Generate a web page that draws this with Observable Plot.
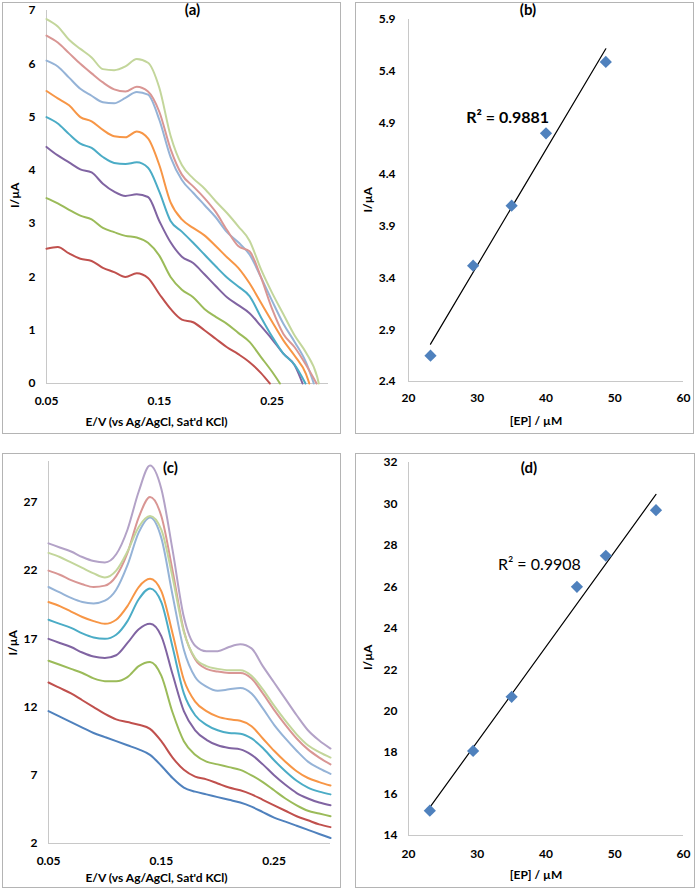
<!DOCTYPE html>
<html><head><meta charset="utf-8">
<script src="https://cdn.jsdelivr.net/npm/d3@7"></script>
<script src="https://cdn.jsdelivr.net/npm/@observablehq/plot@0.6"></script>
<style>
body{margin:0;background:#fff;}
#wrap{position:relative;width:697px;height:890px;font-family:Lato,"Open Sans",sans-serif;}
.panel{position:absolute;border:1px solid #b4b4b4;background:#fff;}
.panel svg{display:block;}
</style></head><body><div id="wrap"></div>
<script>
// ---------- Panel (a): DPV curves, low concentration ----------
const gridA = [0.05,0.06,0.07,0.08,0.09,0.10,0.11,0.12,0.13,0.14,0.15,0.16,0.17,0.18,0.19,0.20,0.21,0.22,0.23,0.24,0.25,0.26,0.27,0.28,0.29];
const aRed        = [2.53,2.56,2.44,2.34,2.30,2.17,2.09,2.00,2.07,1.98,1.68,1.40,1.20,1.15,1.00,0.84,0.68,0.55,0.40,0.20];
const aGreen      = [3.48,3.38,3.26,3.15,3.08,2.92,2.84,2.77,2.74,2.64,2.40,2.00,1.76,1.62,1.40,1.25,1.12,0.95,0.78,0.50,0.22];
const aPurple     = [4.44,4.28,4.15,4.02,3.96,3.75,3.60,3.52,3.55,3.50,3.05,2.65,2.38,2.26,2.05,1.83,1.62,1.47,1.32,1.08,0.83,0.56,0.34];
const aTeal       = [5.00,4.88,4.68,4.50,4.42,4.25,4.14,4.12,4.15,4.05,3.60,3.05,2.85,2.64,2.42,2.20,1.99,1.82,1.64,1.25,0.88,0.56,0.35];
const aOrange     = [5.49,5.35,5.22,5.00,4.92,4.76,4.64,4.62,4.73,4.60,4.10,3.40,3.08,2.92,2.78,2.58,2.37,2.17,1.88,1.52,1.16,0.81,0.52,0.18];
const aLightBlue  = [6.06,5.95,5.74,5.53,5.40,5.28,5.26,5.36,5.47,5.42,4.95,4.25,3.82,3.58,3.35,3.12,2.84,2.65,2.42,2.00,1.55,1.12,0.78,0.40];
const aPink       = [6.53,6.40,6.20,6.00,5.82,5.65,5.52,5.48,5.57,5.48,5.10,4.40,3.92,3.70,3.48,3.22,2.88,2.58,2.48,2.00,1.40,0.93,0.68,0.35];
const aLightGreen = [6.84,6.70,6.45,6.28,6.12,5.90,5.88,5.95,6.09,6.02,5.55,4.65,4.10,3.85,3.66,3.42,3.20,2.95,2.68,2.15,1.70,1.30,0.90,0.58,0.12];
const aEndE = [0.248,0.257,0.277,0.2796,0.283,0.287,0.2894,0.2914];
const aColors = ["#C0504D","#9BBB59","#8064A2","#4BACC6","#F79646","#95B3D7","#D99694","#C3D69B"];
const aTicksY = [0,1,2,3,4,5,6,7];

// ---------- Panel (b): calibration ----------
const bConc = [23.2,29.4,35.0,40.0,48.7];
const bCurrent = [2.65,3.52,4.10,4.80,5.49];
const bTicksY = [2.4,2.9,3.4,3.9,4.4,4.9,5.4,5.9];
const concTicks = [20,30,40,50,60];

// ---------- Panel (c): DPV curves, high concentration ----------
const gridC = [0.05,0.06,0.07,0.08,0.09,0.10,0.11,0.12,0.13,0.14,0.15,0.16,0.17,0.18,0.19,0.20,0.21,0.22,0.23,0.24,0.25,0.26,0.27,0.28,0.29,0.30];
const cBlue       = [11.7,11.3,10.9,10.5,10.1,9.8,9.5,9.2,8.9,8.5,7.7,6.8,6.1,5.8,5.6,5.4,5.2,5.0,4.7,4.3,3.9,3.6,3.3,3.0,2.7,2.4];
const cRed        = [13.8,13.4,13.0,12.5,12.0,11.5,11.1,10.9,10.7,10.4,9.5,8.3,7.4,6.9,6.7,6.4,6.1,5.9,5.6,5.2,4.8,4.4,4.0,3.7,3.4,3.2];
const cGreen      = [15.4,15.1,14.8,14.5,14.1,13.9,13.9,14.2,15.0,15.3,14.3,11.6,9.5,8.5,8.0,7.8,7.6,7.4,7.0,6.5,5.9,5.3,4.8,4.4,4.2,4.0];
const cPurple     = [17.0,16.7,16.4,16.0,15.7,15.6,15.8,16.7,17.7,18.1,17.2,14.4,11.7,10.3,9.6,9.2,9.0,8.9,8.5,7.8,7.0,6.3,5.7,5.3,5.0,4.8];
const cTeal       = [18.4,18.1,17.8,17.4,17.1,17.0,17.3,18.3,19.9,20.7,19.7,16.4,13.0,11.4,10.7,10.3,10.1,10.05,9.7,9.0,8.1,7.3,6.6,6.1,5.8,5.6];
const cOrange     = [19.7,19.4,19.0,18.6,18.3,18.1,18.4,19.4,20.8,21.4,20.5,17.4,14.0,12.4,11.7,11.3,11.1,11.0,10.6,9.7,8.8,8.0,7.3,6.8,6.5,6.25];
const cLightBlue  = [20.8,20.4,20.0,19.7,19.6,19.8,20.6,22.4,24.8,25.9,24.4,20.2,16.2,14.2,13.5,13.2,13.3,13.4,13.0,11.9,10.7,9.7,8.8,8.0,7.5,7.1];
const cPink       = [22.0,21.7,21.3,21.0,20.8,20.9,21.6,23.3,25.9,27.4,26.0,22.0,17.6,15.5,14.8,14.6,14.5,14.5,14.1,13.0,11.8,10.7,9.7,8.9,8.3,7.8];
const cLightGreen = [23.3,23.0,22.6,22.2,21.8,21.5,22.0,23.4,25.2,26.0,25.0,21.5,17.5,15.6,15.0,14.8,14.7,14.7,14.3,13.3,12.1,11.0,10.0,9.2,8.7,8.3];
const cLavender   = [24.0,23.7,23.4,23.0,22.7,22.6,23.2,25.0,27.8,29.7,28.0,23.5,18.6,16.5,16.1,16.1,16.4,16.6,16.3,15.0,13.8,12.6,11.4,10.3,9.55,8.96];
const cColors = ["#4F81BD","#C0504D","#9BBB59","#8064A2","#4BACC6","#F79646","#95B3D7","#D99694","#C3D69B","#B3A2C7"];
const cTicksY = [2,7,12,17,22,27];
const potTicks = [0.05,0.15,0.25];

// ---------- Panel (d): calibration ----------
const dConc = [23.1,29.4,35.0,44.5,48.7,56.0];
const dCurrent = [15.2,18.08,20.69,26.0,27.5,29.7];
const dTicksY = [14,16,18,20,22,24,26,28,30,32];

// ---------- helpers ----------
const FONT = "Lato, 'Open Sans', sans-serif";
const AXIS = "#c8c8c8";
const baseStyle = {fontFamily: FONT, fontSize: "12px", fontWeight: "bold", color: "#000", background: "white", overflow: "visible"};

function curveRows(grid, list, colors, ends) {
  const rows = [];
  list.forEach((vals, s) => {
    vals.forEach((v, j) => rows.push({E: grid[j], I: v, s, c: colors[s]}));
    if (ends) rows.push({E: ends[s], I: 0, s, c: colors[s]});
  });
  return rows;
}
function pointRows(xs, ys) { return xs.map((x, i) => ({x, y: ys[i]})); }

function panel(left, top, w, h, svg) {
  const div = document.createElement("div");
  div.className = "panel";
  Object.assign(div.style, {left: left + "px", top: top + "px", width: w + "px", height: h + "px"});
  div.appendChild(svg);
  document.getElementById("wrap").appendChild(div);
}

const txt = d => d;
const plain = d => String(d);

// ---------- (a) ----------
const rowsA = curveRows(gridA, [aRed,aGreen,aPurple,aTeal,aOrange,aLightBlue,aPink,aLightGreen], aColors, aEndE);
panel(2, 2, 337, 430, Plot.plot({
  width: 337, height: 430, marginLeft: 43, marginRight: 12, marginTop: 7, marginBottom: 50,
  style: baseStyle,
  color: {type: "identity"},
  x: {domain: [0.05, 0.30], ticks: potTicks, tickFormat: d => d.toFixed(2), tickSize: 0, tickPadding: 13, label: null},
  y: {domain: [0, 7], ticks: aTicksY, tickFormat: plain, tickSize: 0, tickPadding: 11, label: null},
  marks: [
    Plot.ruleX([0.05], {stroke: AXIS}),
    Plot.ruleY([0], {stroke: AXIS}),
    Plot.line(rowsA, {x: "E", y: "I", z: "s", stroke: "c", strokeWidth: 2, curve: "monotone-x"}),
    Plot.text(["(a)"], {text: txt, frameAnchor: "top", dx: 5, dy: 0, lineAnchor: "middle", fontSize: 15, fontWeight: "bold"}),
    Plot.text(["I/µA"], {text: txt, frameAnchor: "left", dx: -31, dy: 11, rotate: -90, fontSize: 12, fontWeight: "bold"}),
    Plot.text(["E/V (vs Ag/AgCl, Sat'd KCl)"], {text: txt, frameAnchor: "bottom", dx: -31, dy: 39, lineAnchor: "middle", fontSize: 12, fontWeight: "bold"})
  ]
}));

// ---------- (b) ----------
const rowsB = pointRows(bConc, bCurrent);
panel(355, 2, 337, 430, Plot.plot({
  width: 337, height: 430, marginLeft: 52, marginRight: 10, marginTop: 16, marginBottom: 52,
  style: baseStyle,
  x: {domain: [20, 60], ticks: concTicks, tickFormat: plain, tickSize: 0, tickPadding: 12, label: null},
  y: {domain: [2.4, 5.9], ticks: bTicksY, tickFormat: d => d.toFixed(1), tickSize: 0, tickPadding: 13, label: null},
  marks: [
    Plot.ruleX([20], {stroke: AXIS}),
    Plot.ruleY([2.4], {stroke: AXIS}),
    Plot.linearRegressionY(rowsB, {x: "x", y: "y", stroke: "black", strokeWidth: 1.2, ci: 0}),
    Plot.dot(rowsB, {x: "x", y: "y", symbol: "diamond2", r: 5.5, fill: "#4F81BD", stroke: "none"}),
    Plot.text(["R² = 0.9881"], {text: txt, x: 28.4, y: 4.95, textAnchor: "start", fontSize: 16, fontWeight: "bold"}),
    Plot.text(["(b)"], {text: txt, frameAnchor: "top", dx: -18, dy: -9, lineAnchor: "middle", fontSize: 15, fontWeight: "bold"}),
    Plot.text(["I/µA"], {text: txt, frameAnchor: "left", dx: -40, dy: 12, rotate: -90, fontSize: 12, fontWeight: "bold"}),
    Plot.text(["[EP] / µM"], {text: txt, frameAnchor: "bottom", dx: -10, dy: 40, lineAnchor: "middle", fontSize: 12, fontWeight: "bold"})
  ]
}));

// ---------- (c) ----------
const rowsC = curveRows(gridC, [cBlue,cRed,cGreen,cPurple,cTeal,cOrange,cLightBlue,cPink,cLightGreen,cLavender], cColors, null);
panel(2, 453, 337, 433, Plot.plot({
  width: 337, height: 433, marginLeft: 45, marginRight: 10, marginTop: 7, marginBottom: 44,
  style: baseStyle,
  color: {type: "identity"},
  x: {domain: [0.05, 0.30], ticks: potTicks, tickFormat: d => d.toFixed(2), tickSize: 0, tickPadding: 13, label: null},
  y: {domain: [2, 30], ticks: cTicksY, tickFormat: plain, tickSize: 0, tickPadding: 11, label: null},
  marks: [
    Plot.ruleX([0.05], {stroke: AXIS}),
    Plot.ruleY([2], {stroke: AXIS}),
    Plot.line(rowsC, {x: "E", y: "I", z: "s", stroke: "c", strokeWidth: 2, curve: "monotone-x"}),
    Plot.text(["(c)"], {text: txt, frameAnchor: "top", dx: -19, dy: 7, lineAnchor: "middle", fontSize: 15, fontWeight: "bold"}),
    Plot.text(["I/µA"], {text: txt, frameAnchor: "left", dx: -35, dy: 3, rotate: -90, fontSize: 12, fontWeight: "bold"}),
    Plot.text(["E/V (vs Ag/AgCl, Sat'd KCl)"], {text: txt, frameAnchor: "bottom", dx: -33, dy: 35, lineAnchor: "middle", fontSize: 12, fontWeight: "bold"})
  ]
}));

// ---------- (d) ----------
const rowsD = pointRows(dConc, dCurrent);
panel(355, 453, 338, 433, Plot.plot({
  width: 338, height: 433, marginLeft: 52, marginRight: 11, marginTop: 8, marginBottom: 52,
  style: baseStyle,
  x: {domain: [20, 60], ticks: concTicks, tickFormat: plain, tickSize: 0, tickPadding: 14, label: null},
  y: {domain: [14, 32], ticks: dTicksY, tickFormat: plain, tickSize: 0, tickPadding: 11, label: null},
  marks: [
    Plot.ruleX([20], {stroke: AXIS}),
    Plot.ruleY([14], {stroke: AXIS}),
    Plot.linearRegressionY(rowsD, {x: "x", y: "y", stroke: "black", strokeWidth: 1.2, ci: 0}),
    Plot.dot(rowsD, {x: "x", y: "y", symbol: "diamond2", r: 5.5, fill: "#4F81BD", stroke: "none"}),
    Plot.text(["R² = 0.9908"], {text: txt, x: 33.0, y: 27.07, textAnchor: "start", fontSize: 16, fontWeight: "normal"}),
    Plot.text(["(d)"], {text: txt, frameAnchor: "top", dx: -17, dy: 6, lineAnchor: "middle", fontSize: 15, fontWeight: "bold"}),
    Plot.text(["I/µA"], {text: txt, frameAnchor: "left", dx: -40, dy: 21, rotate: -90, fontSize: 12, fontWeight: "bold"}),
    Plot.text(["[EP] / µM"], {text: txt, frameAnchor: "bottom", dx: -10, dy: 40, lineAnchor: "middle", fontSize: 12, fontWeight: "bold"})
  ]
}));
</script></body></html>
